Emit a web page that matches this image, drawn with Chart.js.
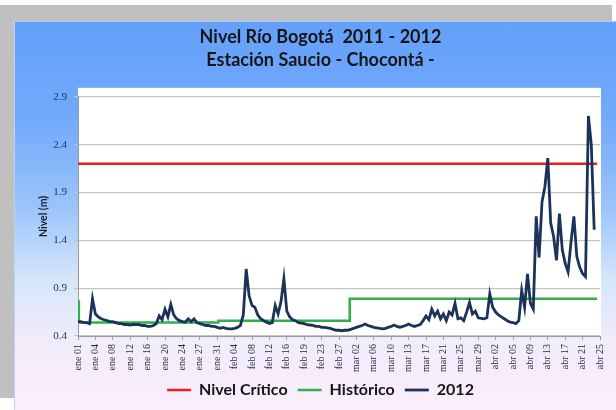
<!DOCTYPE html>
<html>
<head>
<meta charset="utf-8">
<script src="https://cdn.jsdelivr.net/npm/chart.js@4.4.1/dist/chart.umd.min.js"></script>
<style>
  html, body { margin: 0; padding: 0; background: #ffffff; width: 616px; height: 410px; overflow: hidden; }
  #grayTop { position: absolute; left: 0; top: 5px; width: 612px; height: 17px; background: #c0c0c0; }
  #grayLeft { position: absolute; left: 0; top: 5px; width: 14px; height: 393px; background: #c0c0c0; }
  #panel { position: absolute; left: 14px; top: 21px; width: 602px; height: 389px;
    background: linear-gradient(to bottom, #64a0fb 0%, #72aafb 25%, #9cc4fa 48%, #d4e6fa 66%, #f1ecfa 82%, #fbeefb 100%);
    border-left: 1px solid #b9d3f3; border-top: 1px solid #a9c9f5; box-sizing: border-box; }
  #wrap { position: absolute; left: 14px; top: 21px; width: 602px; height: 389px; }
</style>
</head>
<body>
<div id="grayTop"></div>
<div id="grayLeft"></div>
<div id="panel"></div>
<div id="wrap"><canvas id="c" width="602" height="389"></canvas></div>
<script>
// ---------------- DATA ----------------
const tickLabels = ['ene 01','ene 04','ene 08','ene 12','ene 16','ene 20','ene 24','ene 27','ene 31',
  'feb 04','feb 08','feb 12','feb 16','feb 19','feb 23','feb 27',
  'mar 02','mar 06','mar 10','mar 13','mar 17','mar 21','mar 25','mar 29',
  'abr 02','abr 05','abr 09','abr 13','abr 17','abr 21','abr 25'];
const samplesPerTick = 6;

// Nivel 2012 (m), uniform samples
const nivel2012 = [
  0.55,0.55,0.54,0.54,0.53,0.79,0.63,0.60,0.58,0.57,   // 0-9
  0.56,0.55,0.55,0.54,0.53,0.53,0.52,0.52,0.515,0.52,  // 10-19
  0.52,0.52,0.51,0.51,0.50,0.50,0.51,0.53,0.61,0.57,   // 20-29
  0.68,0.60,0.73,0.62,0.58,0.56,0.55,0.545,0.58,0.55,  // 30-39
  0.58,0.54,0.53,0.52,0.51,0.51,0.50,0.50,0.49,0.48,   // 40-49
  0.49,0.48,0.475,0.475,0.48,0.49,0.51,0.62,1.10,0.82, // 50-59
  0.72,0.70,0.62,0.58,0.56,0.545,0.53,0.54,0.72,0.63,  // 60-69
  0.76,1.00,0.66,0.60,0.57,0.56,0.54,0.535,0.53,0.52,  // 70-79
  0.515,0.51,0.50,0.50,0.49,0.49,0.485,0.48,0.47,0.46, // 80-89
  0.46,0.455,0.46,0.46,0.47,0.48,0.49,0.50,0.51,0.525, // 90-99
  0.51,0.50,0.49,0.485,0.48,0.475,0.48,0.49,0.50,0.515,// 100-109
  0.50,0.49,0.50,0.51,0.525,0.51,0.50,0.51,0.52,0.56,  // 110-119
  0.61,0.57,0.68,0.61,0.66,0.58,0.63,0.56,0.65,0.62,   // 120-129
  0.74,0.58,0.59,0.56,0.65,0.75,0.63,0.66,0.59,0.585,  // 130-139
  0.58,0.59,0.84,0.70,0.65,0.62,0.60,0.58,0.56,0.545,  // 140-149
  0.54,0.53,0.56,0.875,0.70,1.05,0.74,0.68,1.65,1.22,  // 150-159
  1.80,1.96,2.26,1.58,1.44,1.19,1.68,1.30,1.16,1.07,   // 160-169
  1.38,1.65,1.23,1.12,1.05,1.02,2.70,2.40,1.51         // 170-178
];

// Nivel crítico (m)
const nivelCritico = 2.2;
const lineEndIndex = 179;

// Histórico (m): step values and the sample index where each starts
const historicoStart = [0, 0.3, 48.4, 93.7];
const historicoValues = [0.76, 0.54, 0.56, 0.79];

// y-axis ticks
const yMin = 0.4, yMax = 2.9, yStep = 0.5;

// ---------------- BUILD ----------------
const serie2012 = nivel2012.map((v, i) => ({ x: i, y: v }));
const serieCritico = [{ x: 0, y: nivelCritico }, { x: lineEndIndex, y: nivelCritico }];
const serieHist = historicoStart.map((s, i) => ({ x: s, y: historicoValues[i] }));
serieHist.push({ x: lineEndIndex, y: historicoValues[historicoValues.length - 1] });

const plotBg = {
  id: 'plotBg',
  beforeDraw(chart) {
    const { ctx, chartArea: a } = chart;
    ctx.save();
    ctx.fillStyle = '#ffffff';
    ctx.fillRect(a.left, a.top - 9, a.right - a.left + 1, a.bottom - a.top + 9);
    ctx.restore();
  }
};

new Chart(document.getElementById('c'), {
  type: 'line',
  data: {
    datasets: [
      { label: 'Nivel Crítico', data: serieCritico, borderColor: '#ee1c1c', backgroundColor: '#ee1c1c', borderWidth: 2.5, pointRadius: 0, order: 1 },
      { label: 'Histórico', data: serieHist, borderColor: '#2fb04c', backgroundColor: '#2fb04c', borderWidth: 2.5, pointRadius: 0, stepped: true, order: 2 },
      { label: '2012', data: serie2012, borderColor: '#1b3358', backgroundColor: '#1b3358', borderWidth: 2.8, pointRadius: 0, order: 0 }
    ]
  },
  options: {
    responsive: false,
    animation: false,
    events: [],
    layout: { padding: { left: 23, right: 12, top: 0, bottom: 2 } },
    plugins: {
      title: {
        display: true,
        text: ['Nivel Río Bogotá  2011 - 2012', 'Estación Saucio - Chocontá -'],
        color: '#161616',
        font: { family: 'Lato', size: 18, weight: 'bold', lineHeight: 1.3 },
        padding: { top: 4, bottom: 25 }
      },
      legend: {
        position: 'bottom',
        labels: {
          usePointStyle: true, pointStyle: 'line', pointStyleWidth: 24,
          color: '#161616',
          font: { family: 'Lato', size: 16, weight: 'bold' },
          padding: 10,
          sort: (a, b) => a.datasetIndex - b.datasetIndex
        }
      },
      tooltip: { enabled: false }
    },
    scales: {
      x: {
        type: 'linear', min: 0, max: (tickLabels.length - 1) * samplesPerTick,
        afterBuildTicks: (s) => { s.ticks = tickLabels.map((t, i) => ({ value: i * samplesPerTick })); },
        afterFit: (s) => { s.height = 36; },
        ticks: {
          autoSkip: false, minRotation: 90, maxRotation: 90, padding: 4,
          color: '#1e2a40',
          font: { family: 'Liberation Serif', size: 10 },
          callback: (v) => tickLabels[Math.round(v / samplesPerTick)]
        },
        grid: { drawOnChartArea: false, drawTicks: true, tickLength: 4, color: '#9a9a9a' },
        border: { color: '#9a9a9a' }
      },
      y: {
        min: yMin, max: yMax,
        ticks: { stepSize: yStep, padding: 7, color: '#1f3560',
          font: { family: 'Liberation Serif', size: 11 },
          callback: (v) => v.toFixed(1) },
        afterFit: (s) => { s.width = 41; },
        grid: { color: '#c4c4c4', lineWidth: 1.2, tickLength: 4 },
        border: { color: '#9a9a9a' },
        title: { display: true, text: 'Nivel (m)', color: '#1a1a2a',
          font: { family: 'Lato', size: 10.5, weight: 'bold' }, padding: 0 }
      }
    }
  },
  plugins: [plotBg]
});
</script>
</body>
</html>
